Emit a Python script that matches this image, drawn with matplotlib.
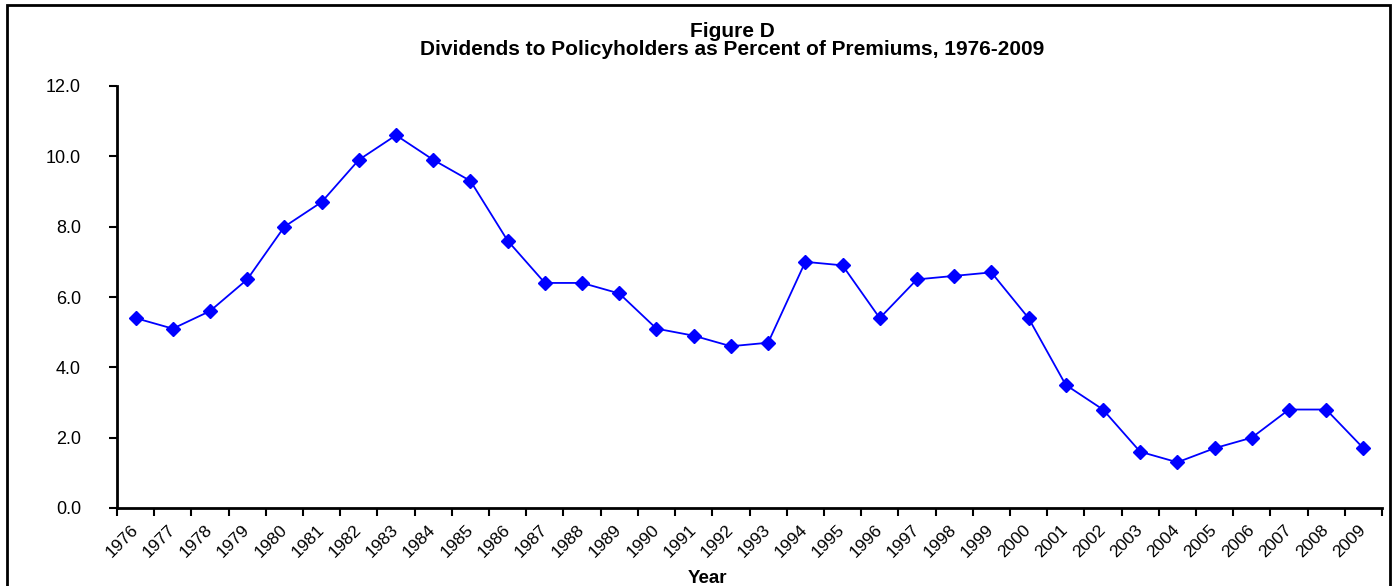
import numpy as np
import matplotlib.pyplot as plt
from matplotlib.patches import Rectangle

plt.rcParams['font.family'] = ['Liberation Sans', 'DejaVu Sans']

# Dividends to policyholders as a percent of premiums
years = [str(y) for y in range(1976, 2010)]
dividends = [5.4, 5.1, 5.6, 6.5, 8.0, 8.7, 9.9, 10.6, 9.9, 9.3,
             7.6, 6.4, 6.4, 6.1, 5.1, 4.9, 4.6, 4.7, 7.0, 6.9,
             5.4, 6.5, 6.6, 6.7, 5.4, 3.5, 2.8, 1.6, 1.3, 1.7,
             2.0, 2.8, 2.8, 1.7]
yticks = [0, 2, 4, 6, 8, 10, 12]

W, H = 1398, 586
fig = plt.figure(figsize=(W / 100, H / 100), dpi=100)
ax = fig.add_axes([117 / W, 1 - 508 / H, (1382 - 117) / W, (508 - 86) / H])

x = np.arange(len(years))
ax.plot(x, dividends, color='#0000FF', linewidth=1.3,
        marker='D', markersize=7, markeredgecolor='#0000FF')

# category axis: tick marks between years, labels centred on each year
ax.set_xlim(-0.5, len(years) - 0.5)
ax.set_xticks(np.arange(len(years) + 1) - 0.5)
ax.set_xticklabels([])
ax.set_xticks(x, minor=True)
ax.set_xticklabels(years, minor=True, rotation=45, ha='right',
                   va='center', rotation_mode='anchor', fontsize=12.5)
ax.tick_params(axis='x', which='minor', length=0, pad=14)
ax.tick_params(axis='x', which='major', direction='out', length=6, width=1.5)

ax.set_ylim(0, 12)
ax.set_yticks(yticks)
ax.set_yticklabels([f"{v:.1f}" for v in yticks], fontsize=13)
ax.tick_params(axis='y', direction='out', length=6, width=1.5, pad=20)

for side in ['top', 'right']:
    ax.spines[side].set_visible(False)
for side in ['left', 'bottom']:
    ax.spines[side].set_linewidth(2)

fig.text(732 / W, 1 - 37 / H, "Figure D", ha='center', va='baseline',
         fontsize=15, fontweight='bold')
fig.text(732 / W, 1 - 55 / H,
         "Dividends to Policyholders as Percent of Premiums, 1976-2009",
         ha='center', va='baseline', fontsize=15, fontweight='bold')
fig.text(707 / W, 1 - 583 / H, "Year", ha='center', va='baseline',
         fontsize=13.5, fontweight='bold')

# outer frame round the whole chart
fig.patches.append(Rectangle((7 / W, -0.05), (1390 - 7) / W, 1.05 - 5 / H,
                             transform=fig.transFigure, fill=False,
                             edgecolor='black', linewidth=2))

plt.savefig('out.png', dpi=100)
